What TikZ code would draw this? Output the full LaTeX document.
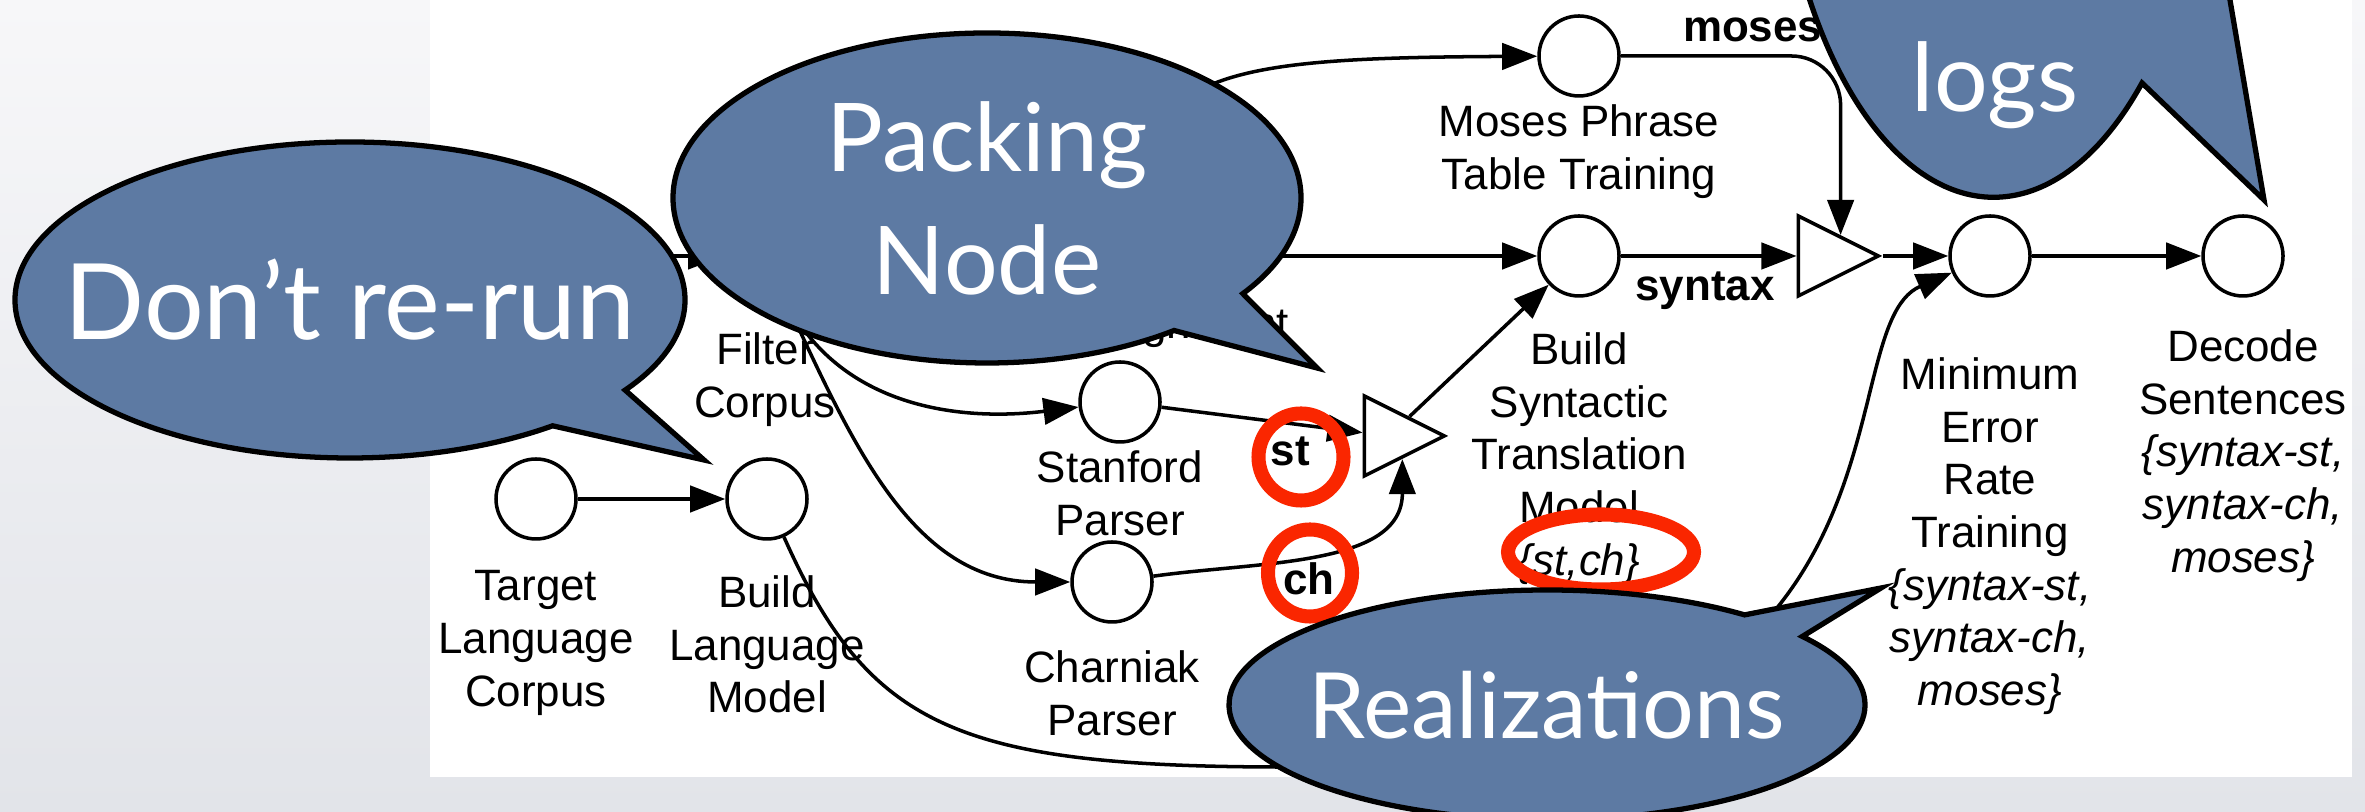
\documentclass[tikz,border=0pt]{standalone}
\usepackage{fontspec}
\setmainfont{Liberation Sans}
\newfontfamily\bubfont{Lato}
\usetikzlibrary{shapes.geometric,shapes.callouts,positioning,arrows.meta}
\definecolor{bubblue}{RGB}{93,122,163}
\definecolor{ringred}{RGB}{250,38,0}
\definecolor{bgtop}{RGB}{247,247,249}
\definecolor{bgbot}{RGB}{226,228,233}
\tikzset{task/.style={circle,draw,fill=white,line width=1pt,minimum size=0.8cm,inner sep=0pt}}
\tikzset{tri/.style={isosceles triangle,isosceles triangle stretches,draw,fill=white,line width=1pt,minimum width=0.8cm,minimum height=0.8cm,inner sep=0pt}}
\tikzset{txt/.style={align=center,inner sep=0pt}}
\tikzset{tag/.style={font=\fontsize{12.5}{15}\selectfont\bfseries,inner sep=1pt}}
\tikzset{ring/.style={draw=ringred,line width=4pt}}
\tikzset{bubline/.style={draw=black,line width=1.5pt,fill=bubblue}}
\tikzset{bub/.style={bubline,ellipse callout,text=white,inner sep=0pt,font=\bubfont\fontsize{27}{35}\selectfont}}

\begin{document}
\begin{tikzpicture}[>={Triangle[length=10pt,width=7.5pt]}, line width=1pt, font=\fontsize{12.5}{15}\selectfont]
    \useasboundingbox (0,0) rectangle (23.65,8.12);
    \clip (0,0) rectangle (23.65,8.12);
    \shade[top color=bgtop, bottom color=bgbot] (0,0) rectangle (23.65,8.12);
    \fill[white] (4.30,0.35) rectangle (23.52,8.12);

    % tasks
    \coordinate (pcorp) at (5.40,5.56);
    \node[task] (tgt) at (5.36,3.13) {};
    \node[task] (lm) at (7.67,3.13) {};
    \node[task] (filt) at (7.65,5.56) {};
    \node[task] (align) at (11.33,5.56) {};
    \node[task] (stan) at (11.20,4.10) {};
    \node[task] (charn) at (11.12,2.30) {};
    \node[task] (moses) at (15.79,7.56) {};
    \node[task] (synt) at (15.79,5.56) {};
    \node[task] (mert) at (19.90,5.56) {};
    \node[task] (dec) at (22.43,5.56) {};
    \node[tri] (join1) at (18.23,5.56) {};
    \node[tri] (join2) at (13.89,3.76) {};

    % task names
    \node[txt, below=0.28cm of tgt] (tgttxt) {Target\\Language\\Corpus};
    \node[txt, below=0.33cm of lm] (lmtxt) {Build\\Language\\Model};
    \node[txt, below=0.33cm of filt] (filttxt) {Filter\\Corpus};
    \node[txt, below=0.07cm of align] (aligntxt) {Word Alignment};
    \node[txt, below=0.05cm of stan] (stantxt) {Stanford\\Parser};
    \node[txt, below=0.25cm of charn] (charntxt) {Charniak\\Parser};
    \node[txt, below=0.05cm of moses] (mosestxt) {Moses Phrase\\Table Training};
    \node[txt, below=0.33cm of synt] (synttxt) {Build\\Syntactic\\Translation\\Model\\\textit{\{st,ch\}}};
    \node[txt, below=0.58cm of mert] (merttxt) {Minimum\\Error\\Rate\\Training\\\textit{\{syntax-st,}\\\textit{syntax-ch,}\\\textit{moses\}}};
    \node[txt, below=0.30cm of dec] (dectxt) {Decode\\Sentences\\\textit{\{syntax-st,}\\\textit{syntax-ch,}\\\textit{moses\}}};

    % dependencies
    \draw[->] (pcorp) -- (filt);
    \draw[->] (filt) -- (align);
    \draw[->] (tgt) -- (lm);
    \draw[->] (filt) to[out=-65, in=187] (stan);
    \draw[->] (filt) to[out=-65, in=180] (charn);
    \draw[->] (align.north) .. controls (11.40,7.42) and (12.30,7.54) .. (moses);
    \draw[->] (align) -- (synt);
    \draw[->] (stan) -- node[tag, pos=0.64, below=2.3pt] (stlbl) {st} (join2);
    \draw[->] (charn) to[out=8, in=-90] node[tag, pos=0.47, below=0.7pt] (chlbl) {ch} (join2.-60);
    \draw[->] (join2) -- (synt);
    \draw[->] (synt) -- node[tag, pos=0.48, below=3pt] (syntlbl) {syntax} (join1);
    \draw[->, rounded corners=14pt] (moses) -| node[tag, pos=0.3, above=2.6pt] (moseslbl) {moses} (join1.50);
    \draw[->] (join1) -- (mert);
    \draw[->] (mert) -- (dec);
    \coordinate (lmlow) at (13.00,0.45);
    \draw[->] (lm) .. controls (8.70,0.82) and (9.60,0.44) .. (lmlow) .. controls (19.50,0.32) and (18.20,4.82) .. (mert);

    % red rings
    \draw[ring] (13.01,3.55) ellipse [x radius=0.425cm, y radius=0.435cm];
    \draw[ring] (13.10,2.39) ellipse [x radius=0.42cm, y radius=0.435cm];
    \draw[ring] (16.01,2.60) ellipse [x radius=0.93cm, y radius=0.375cm];

    % bubbles
    \node[bub, font=\bubfont\fontsize{30}{38}\selectfont, minimum width=6.7cm, minimum height=3.16cm, callout absolute pointer={(7.04,3.52)}, callout pointer arc=18] (rerun) at (3.50,5.12) {\makebox[0pt]{Don’t re-run}};
    \node[bub, align=center, minimum width=6.28cm, minimum height=3.3cm, callout absolute pointer={(13.17,4.44)}, callout pointer arc=18] (packing) at (9.87,6.14) {Packing\\Node};
    \node[bub, font=\bubfont\fontsize{26}{34}\selectfont, minimum width=6.36cm, minimum height=2.3cm, callout absolute pointer={(18.81,2.24)}, callout pointer arc=15] (realiz) at (15.47,1.07) {\makebox[0pt]{Realizations}};
    \draw[bubline] (22.64,6.12) -- (21.42,7.29) arc[start angle=-47.6, end angle=-150, x radius=2.2cm, y radius=4.37cm] -- (18.00,9.00) -- (22.15,9.00) -- cycle;
    \node[text=white, anchor=base, font=\bubfont\fontsize{27}{35}\selectfont] (logs) at (19.95,7.00) {logs};
\end{tikzpicture}
\end{document}
